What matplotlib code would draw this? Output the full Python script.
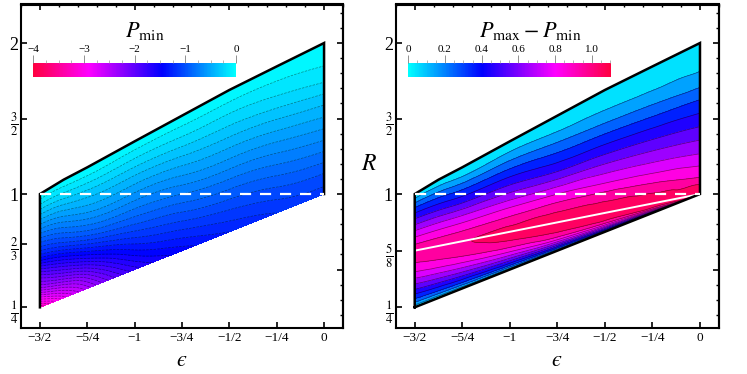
import numpy as np
import matplotlib
matplotlib.use("Agg")
import matplotlib.pyplot as plt
import matplotlib.tri as mtri
from matplotlib.colors import ListedColormap, Normalize, hsv_to_rgb
from matplotlib.cm import ScalarMappable
from matplotlib.ticker import MultipleLocator, NullFormatter

plt.rcParams['font.family'] = ['Liberation Serif', 'DejaVu Serif']
plt.rcParams['mathtext.fontset'] = 'stix'

# --- datos ---
eps_cols = [-1.5, -1.375, -1.25, -1.0, -0.75, -0.5, -0.25, 0.0]
r_lower = [0.25, 0.3125, 0.375, 0.5, 0.625, 0.75, 0.875, 1.0]
r_upper = [1.0, 1.095, 1.177, 1.349, 1.519, 1.689, 1.845, 2.0]
r_ridge = [0.625, 0.65625, 0.6875, 0.75, 0.8125, 0.875, 0.9375, 1.0]

# panel izquierdo: P_min, filas = fraccion entre borde inferior y superior
s_rows = [0.0, 0.1, 0.2, 0.3, 0.4, 0.5, 0.6, 0.7, 0.8, 0.9, 1.0]
pmin = [
    [-3.3, -2.75, -2.3, -1.95, -1.55, -1.2, -0.93, -0.68, -0.44, -0.22, 0.0],
    [-2.85, -2.45, -2.04, -1.68, -1.32, -1.02, -0.79, -0.58, -0.38, -0.18, 0.0],
    [-2.45, -2.15, -1.78, -1.42, -1.1, -0.85, -0.65, -0.48, -0.32, -0.15, 0.0],
    [-1.75, -1.52, -1.3, -1.1, -0.92, -0.76, -0.6, -0.45, -0.3, -0.15, 0.0],
    [-1.45, -1.29, -1.13, -0.98, -0.83, -0.68, -0.54, -0.4, -0.26, -0.13, 0.0],
    [-1.3, -1.17, -1.04, -0.9, -0.76, -0.62, -0.49, -0.36, -0.24, -0.12, 0.0],
    [-1.2, -1.09, -0.97, -0.84, -0.71, -0.58, -0.45, -0.32, -0.2, -0.1, 0.0],
    [-1.15, -1.045, -0.914, -0.775, -0.643, -0.512, -0.386, -0.25, -0.14, -0.065, 0.0],
]

# panel derecho: P_max - P_min
v_rows = [0.0, 0.1, 0.25, 0.45, 0.7]   # borde inferior -> cresta
dp_below = [
    [0.0, 0.22, 0.42, 0.64, 0.85],
    [0.0, 0.235, 0.45, 0.675, 0.88],
    [0.0, 0.25, 0.48, 0.71, 0.91],
    [0.0, 0.27, 0.53, 0.78, 0.97],
    [0.0, 0.30, 0.60, 0.87, 1.02],
    [0.0, 0.33, 0.64, 0.90, 1.04],
    [0.0, 0.35, 0.67, 0.92, 1.05],
    [1.05, 1.05, 1.05, 1.05, 1.05],   # en eps=0 el borde inferior y la cresta coinciden
]
w_rows = [0.0, 0.125, 0.25, 0.375, 0.5, 0.625, 0.75, 0.875, 1.0]   # cresta -> borde superior
dp_above = [
    [0.96, 0.89, 0.79, 0.68, 0.56, 0.44, 0.31, 0.16, 0.0],
    [0.975, 0.90, 0.795, 0.675, 0.54, 0.41, 0.275, 0.13, 0.0],
    [0.99, 0.91, 0.80, 0.67, 0.52, 0.38, 0.24, 0.10, 0.0],
    [1.04, 0.94, 0.82, 0.67, 0.52, 0.38, 0.24, 0.11, 0.0],
    [1.07, 0.97, 0.82, 0.64, 0.47, 0.33, 0.20, 0.08, 0.0],
    [1.08, 0.96, 0.79, 0.63, 0.47, 0.32, 0.18, 0.07, 0.0],
    [1.07, 0.93, 0.76, 0.61, 0.46, 0.31, 0.17, 0.06, 0.0],
    [1.05, 0.88, 0.72, 0.58, 0.44, 0.30, 0.15, 0.06, 0.0],
]

x_ticks = [-1.5, -1.25, -1.0, -0.75, -0.5, -0.25, 0.0]
x_labels = ['\u22123/2', '\u22125/4', '\u22121', '\u22123/4', '\u22121/2', '\u22121/4', '0']
y_ticks_left = [0.25, 2 / 3, 1.0, 1.5, 2.0]
y_labels_left = [r'$\frac{1}{4}$', r'$\frac{2}{3}$', '1', r'$\frac{3}{2}$', '2']
y_ticks_right = [0.25, 0.625, 1.0, 1.5, 2.0]
y_labels_right = [r'$\frac{1}{4}$', r'$\frac{5}{8}$', '1', r'$\frac{3}{2}$', '2']

# colormap tipo Hue: cian -> azul -> magenta -> rojo
hues = np.linspace(0.5, 0.958, 256)
cmap = ListedColormap(hsv_to_rgb(np.c_[hues, np.ones(256), np.ones(256)]))
cmap_r = cmap.reversed()


def grid_tri(X, Y, Z, kind):
    # X, Y, Z: (columnas, filas); puntos repetidos se juntan
    pts = {}
    xs, ys, zs = [], [], []
    idx = np.zeros(X.shape, dtype=int)
    for i in range(X.shape[0]):
        for j in range(X.shape[1]):
            key = (round(X[i, j], 6), round(Y[i, j], 6))
            if key not in pts:
                pts[key] = len(xs)
                xs.append(X[i, j]); ys.append(Y[i, j]); zs.append(Z[i, j])
            idx[i, j] = pts[key]
    tris = []
    for i in range(X.shape[0] - 1):
        for j in range(X.shape[1] - 1):
            a, b, c, d = idx[i, j], idx[i, j + 1], idx[i + 1, j + 1], idx[i + 1, j]
            for t in ((a, b, c), (a, c, d)):
                if len(set(t)) == 3:
                    tris.append(t)
    tri = mtri.Triangulation(np.array(xs), np.array(ys), np.array(tris))
    z = np.array(zs)
    interp = mtri.CubicTriInterpolator(tri, z, kind=kind)
    return mtri.UniformTriRefiner(tri).refine_field(z, triinterpolator=interp, subdiv=4)


E = np.array(eps_cols)[:, None]
lo = np.array(r_lower)[:, None]
up = np.array(r_upper)[:, None]
rg = np.array(r_ridge)[:, None]

# panel izquierdo
Yl = lo + np.array(s_rows)[None, :] * (up - lo)
Xl = np.repeat(E, len(s_rows), axis=1)
tl, zl_f = grid_tri(Xl, Yl, np.array(pmin), 'min_E')

# panel derecho
Yb = lo + np.array(v_rows)[None, :] * (rg - lo)
Ya = rg + np.array(w_rows)[None, :] * (up - rg)
Yr = np.hstack([Yb, Ya])
Xr = np.repeat(E, Yr.shape[1], axis=1)
Zr = np.hstack([np.array(dp_below), np.array(dp_above)])
tr, zr_f = grid_tri(Xr, Yr, Zr, 'geom')

fig = plt.figure(figsize=(7.47, 3.74), dpi=100)
ax1 = fig.add_axes([21 / 747, 1 - 327.7 / 374, 322 / 747, 323.2 / 374])
ax2 = fig.add_axes([395.7 / 747, 1 - 327.7 / 374, 323.3 / 747, 323.2 / 374])

norm1 = Normalize(-4, 0)
ax1.tricontourf(tl, zl_f, levels=np.arange(-4.0, 0.001, 0.1), cmap=cmap_r, norm=norm1, extend='both')
ax1.tricontour(tl, zl_f, levels=np.arange(-3.9, -0.05, 0.1), colors='k', linewidths=0.5, alpha=0.45)

norm2 = Normalize(0, 1.105)
ax2.tricontourf(tr, zr_f, levels=np.arange(0.0, 1.101, 0.1), cmap=cmap, norm=norm2, extend='both')
ax2.tricontour(tr, zr_f, levels=np.arange(0.1, 1.05, 0.1), colors='k', linewidths=0.5, alpha=0.5)
ax2.plot(eps_cols, r_ridge, color='white', lw=1.4)

# bordes
edge_x = [eps_cols[0]] + eps_cols + [eps_cols[-1]]
edge_y = [r_lower[0]] + r_upper + [r_lower[-1]]
ax1.plot(edge_x, edge_y, color='k', lw=1.8, solid_joinstyle='miter')
ax2.plot(edge_x + eps_cols[::-1], edge_y + r_lower[::-1], color='k', lw=1.8, solid_joinstyle='miter')

for ax, yt, ylab in [(ax1, y_ticks_left, y_labels_left), (ax2, y_ticks_right, y_labels_right)]:
    ax.plot([eps_cols[0], eps_cols[-1]], [1, 1], color='white', lw=1.6, dashes=(5, 4))
    ax.set_xlim(-1.6, 0.1)
    ax.set_ylim(0.115, 2.255)
    ax.set_xticks(x_ticks)
    ax.set_xticklabels(x_labels, fontsize=9.5)
    ax.set_yticks(yt)
    ax.set_yticklabels(ylab, fontsize=13)
    ax.tick_params(direction='in', length=4, width=1.2, pad=3)
    ax.tick_params(axis='y', pad=2)
    for sp in ax.spines.values():
        sp.set_linewidth(1.5)
    top = ax.secondary_xaxis('top')
    top.xaxis.set_major_locator(MultipleLocator(0.5))
    top.xaxis.set_minor_locator(MultipleLocator(0.1))
    top.xaxis.set_major_formatter(NullFormatter())
    top.tick_params(which='major', direction='in', length=4, width=1.2)
    top.tick_params(which='minor', direction='in', length=2.2, width=1.0)
    top.spines['top'].set_linewidth(1.5)
    right = ax.secondary_yaxis('right')
    right.yaxis.set_major_locator(MultipleLocator(0.5))
    right.yaxis.set_minor_locator(MultipleLocator(0.1))
    right.yaxis.set_major_formatter(NullFormatter())
    right.tick_params(which='major', direction='in', length=4, width=1.2)
    right.tick_params(which='minor', direction='in', length=2.2, width=1.0)
    right.spines['right'].set_linewidth(1.5)

# barras de color
cax1 = fig.add_axes([33.3 / 747, 1 - 76.7 / 374, 202.7 / 747, 14 / 374])
cb1 = fig.colorbar(ScalarMappable(norm=norm1, cmap=cmap_r), cax=cax1, orientation='horizontal')
cb1.set_ticks([-4, -3, -2, -1, 0])
cb1.set_ticklabels(['\u22124', '\u22123', '\u22122', '\u22121', '0'])
cax1.xaxis.set_minor_locator(MultipleLocator(0.25))

cax2 = fig.add_axes([408.3 / 747, 1 - 76.7 / 374, 202.7 / 747, 14 / 374])
cb2 = fig.colorbar(ScalarMappable(norm=norm2, cmap=cmap), cax=cax2, orientation='horizontal')
cb2.set_ticks([0, 0.2, 0.4, 0.6, 0.8, 1.0])
cb2.set_ticklabels(['0', '0.2', '0.4', '0.6', '0.8', '1.0'])
cax2.xaxis.set_minor_locator(MultipleLocator(0.05))

for cb in (cb1, cb2):
    cb.outline.set_visible(False)
    cb.ax.xaxis.set_ticks_position('top')
    cb.ax.tick_params(which='major', length=6, width=0.6, color='0.5', labelsize=8, pad=0)
    cb.ax.tick_params(which='minor', length=2.5, width=0.5, color='0.6')

fig.text(145 / 747, 1 - 31 / 374, r'$P_{\rm min}$', ha='center', va='center', fontsize=16)
fig.text(530 / 747, 1 - 31 / 374, r'$P_{\rm max} - P_{\rm min}$', ha='center', va='center', fontsize=16)

fig.text(182 / 747, 1 - 361 / 374, '$\u03f5$', ha='center', va='center', fontsize=16)
fig.text(557 / 747, 1 - 361 / 374, '$\u03f5$', ha='center', va='center', fontsize=16)
fig.text(369 / 747, 1 - 165 / 374, r'$R$', ha='center', va='center', fontsize=17)

fig.savefig('out.png', dpi=100)
